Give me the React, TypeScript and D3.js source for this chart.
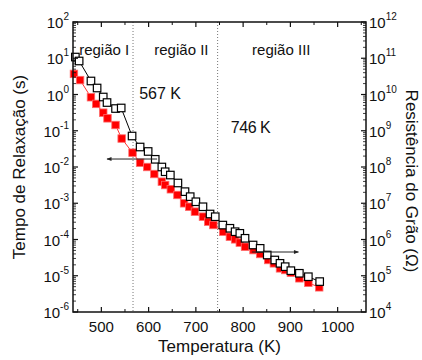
import React from 'react'
import * as d3 from 'd3'

// temperatura (K) e tempo de relaxação (s) - quadrados abertos, eixo esquerdo
const tauTemps = [445, 453, 478, 491, 504, 512, 530, 542, 565, 582, 599, 614, 628, 635, 646, 662, 677, 688, 700, 715, 730, 741, 757, 772, 783, 793, 804, 821, 836, 851, 867, 878, 889, 901, 919, 938, 962]
const tauValues = [10.8, 8.4, 2.36, 1.51, 0.853, 0.6, 0.41, 0.425, 0.0716, 0.0356, 0.0268, 0.0163, 0.01, 0.0074, 0.006, 0.00362, 0.00209, 0.00152, 0.0011, 0.0008, 0.000505, 0.000425, 0.00025, 0.000204, 0.000164, 0.000148, 0.000108, 7.05e-5, 5.7e-5, 3.73e-5, 2.72e-5, 2.2e-5, 1.78e-5, 1.38e-5, 1.17e-5, 9.4e-6, 6.9e-6]

// temperatura (K) e resistência do grão (ohm) - quadrados vermelhos, eixo direito
const resTemps = [442, 455, 478, 489, 504, 513, 530, 543, 566, 582, 597, 612, 628, 635, 647, 661, 675, 686, 698, 715, 726, 737, 758, 772, 783, 793, 804, 822, 836, 853, 865, 878, 889, 901, 919, 938, 961]
const resValues = [3.7e10, 2.5e10, 8.4e9, 5.5e9, 3.15e9, 2.2e9, 1.44e9, 6.1e8, 2.48e8, 1.31e8, 1.0e8, 6.4e7, 3.93e7, 3.18e7, 2.43e7, 1.69e7, 9.97e6, 8.0e6, 5.85e6, 4.26e6, 3.1e6, 2.51e6, 1.64e6, 1.19e6, 1.01e6, 8.2e5, 6.3e5, 5.1e5, 3.98e5, 2.72e5, 2.2e5, 1.6e5, 1.44e5, 1.21e5, 8.5e4, 6.4e4, 4.8e4]

const xTicks = [500, 600, 700, 800, 900, 1000]
const xMinorTicks = [450, 550, 650, 750, 850, 950, 1050]
const leftExps = [-6, -5, -4, -3, -2, -1, 0, 1, 2]
const rightExps = [4, 5, 6, 7, 8, 9, 10, 11, 12]

const transitions = [567, 746]
const regions = [
  { label: 'região I', t: 453 },
  { label: 'região II', t: 612 },
  { label: 'região III', t: 819 },
]

const font = 'Liberation Sans, Arial, sans-serif'

const App: React.FC = () => {
  const width = 422
  const height = 360
  const left = 73
  const right = 366
  const top = 22
  const bottom = 312

  const x = d3.scaleLinear().domain([440, 1060]).range([left, right])
  const yL = d3.scaleLog().domain([1e-6, 1e2]).range([bottom, top])
  const yR = d3.scaleLog().domain([1e4, 1e12]).range([bottom, top])

  const tauData = tauTemps.map((t, i) => ({ t, v: tauValues[i] }))
  const resData = resTemps.map((t, i) => ({ t, v: resValues[i] }))

  const tauLine = d3.line<{ t: number; v: number }>().x(d => x(d.t)).y(d => yL(d.v))
  const resLine = d3.line<{ t: number; v: number }>().x(d => x(d.t)).y(d => yR(d.v))

  // minor log ticks
  const minorL: number[] = []
  leftExps.slice(0, -1).forEach(e => { for (let k = 2; k <= 9; k++) minorL.push(k * Math.pow(10, e)) })
  const minorR: number[] = []
  rightExps.slice(0, -1).forEach(e => { for (let k = 2; k <= 9; k++) minorR.push(k * Math.pow(10, e)) })

  const sq = 7.5

  return (
    <div style={{ position: 'absolute', left: 0, top: 0 }}>
      <svg width={width} height={height} style={{ display: 'block', background: '#fff' }} fontFamily={font}>
        <defs>
          <marker id="arr" viewBox="0 0 10 10" refX="9" refY="5" markerWidth="6" markerHeight="5" orient="auto">
            <path d="M0,1 L10,5 L0,9 z" fill="#222" />
          </marker>
        </defs>

        {/* linhas de transição */}
        {transitions.map(t => (
          <line key={t} x1={x(t)} x2={x(t)} y1={top} y2={bottom} stroke="#777" strokeWidth={1} strokeDasharray="1,2" />
        ))}

        {/* séries */}
        <path d={tauLine(tauData) ?? ''} fill="none" stroke="#000" strokeWidth={1} />
        <path d={resLine(resData) ?? ''} fill="none" stroke="#f33" strokeWidth={1} />
        {resData.map((d, i) => (
          <rect key={'r' + i} x={x(d.t) - sq / 2} y={yR(d.v) - sq / 2} width={sq} height={sq} fill="#ff0000" stroke="#ff6a6a" strokeWidth={0.8} />
        ))}
        {tauData.map((d, i) => (
          <rect key={'t' + i} x={x(d.t) - sq / 2} y={yL(d.v) - sq / 2} width={sq} height={sq} fill="#fff" stroke="#000" strokeWidth={1.2} />
        ))}

        {/* setas */}
        <line x1={x(618)} x2={x(512)} y1={yL(10 ** -1.78)} y2={yL(10 ** -1.78)} stroke="#222" strokeWidth={1} markerEnd="url(#arr)" />
        <line x1={x(819)} x2={x(917)} y1={yR(10 ** 5.655)} y2={yR(10 ** 5.655)} stroke="#222" strokeWidth={1} markerEnd="url(#arr)" />

        {/* textos de região */}
        {regions.map(r => (
          <text key={r.label} x={x(r.t)} y={55} fontSize={15} fill="#111">{r.label}</text>
        ))}
        <text x={x(580)} y={99} fontSize={16} fill="#111">567 K</text>
        <text x={x(774)} y={133} fontSize={16} fill="#111" letterSpacing={-0.5}>746 K</text>

        {/* moldura */}
        <rect x={left} y={top} width={right - left} height={bottom - top} fill="none" stroke="#111" strokeWidth={1.5} />

        {/* eixo x */}
        {xTicks.map(t => (
          <g key={t}>
            <line x1={x(t)} x2={x(t)} y1={bottom} y2={bottom - 5} stroke="#111" strokeWidth={1.2} />
            <line x1={x(t)} x2={x(t)} y1={top} y2={top + 5} stroke="#111" strokeWidth={1.2} />
            <text x={x(t)} y={bottom + 20} fontSize={15} textAnchor="middle" fill="#111">{t}</text>
          </g>
        ))}
        {xMinorTicks.filter(t => t < 1060).map(t => (
          <g key={t}>
            <line x1={x(t)} x2={x(t)} y1={bottom} y2={bottom - 3} stroke="#111" strokeWidth={1} />
            <line x1={x(t)} x2={x(t)} y1={top} y2={top + 3} stroke="#111" strokeWidth={1} />
          </g>
        ))}

        {/* eixo y esquerdo */}
        {leftExps.map(e => (
          <g key={e}>
            <line x1={left} x2={left + 5} y1={yL(10 ** e)} y2={yL(10 ** e)} stroke="#111" strokeWidth={1.2} />
            <text x={left - 4} y={yL(10 ** e) + 6} fontSize={15} textAnchor="end" fill="#111">
              10<tspan dy={-8} fontSize={10}>{e}</tspan>
            </text>
          </g>
        ))}
        {minorL.map((v, i) => (
          <line key={i} x1={left} x2={left + 3} y1={yL(v)} y2={yL(v)} stroke="#111" strokeWidth={0.8} />
        ))}

        {/* eixo y direito */}
        {rightExps.map(e => (
          <g key={e}>
            <line x1={right} x2={right - 5} y1={yR(10 ** e)} y2={yR(10 ** e)} stroke="#111" strokeWidth={1.2} />
            <text x={right + 3} y={yR(10 ** e) + 6} fontSize={15} fill="#111">
              10<tspan dy={-8} fontSize={10}>{e}</tspan>
            </text>
          </g>
        ))}
        {minorR.map((v, i) => (
          <line key={i} x1={right} x2={right - 3} y1={yR(v)} y2={yR(v)} stroke="#111" strokeWidth={0.8} />
        ))}

        {/* títulos */}
        <text x={(left + right) / 2} y={352} fontSize={17} textAnchor="middle" fill="#111">Temperatura (K)</text>
        <text transform={`translate(25,167) rotate(-90)`} fontSize={17} textAnchor="middle" fill="#111">Tempo de Relaxação (s)</text>
        <text transform={`translate(406,181) rotate(90)`} fontSize={17} textAnchor="middle" fill="#111">Resistência do Grão (Ω)</text>
      </svg>
    </div>
  )
}

export default App
